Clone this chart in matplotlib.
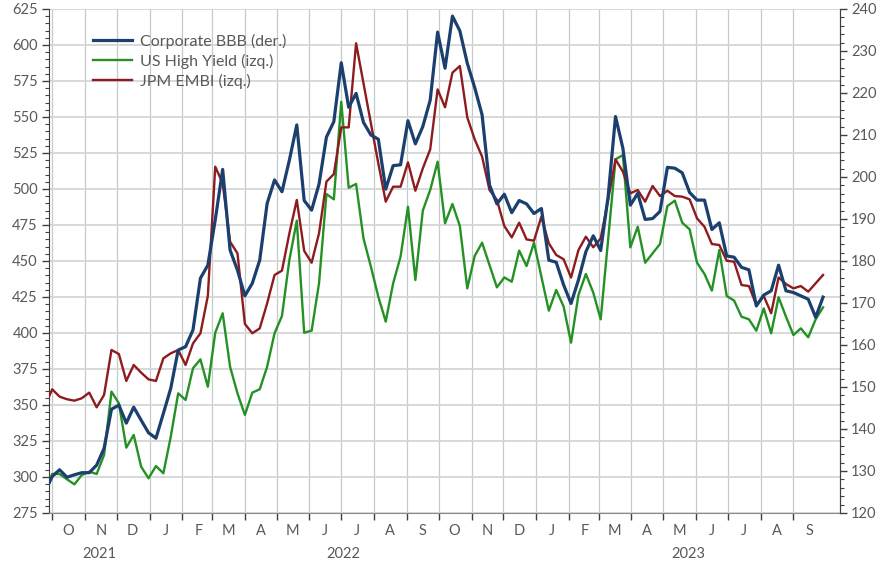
import matplotlib
matplotlib.use("Agg")
import matplotlib.pyplot as plt
import matplotlib.dates as mdates
from matplotlib.ticker import MultipleLocator, FixedLocator, NullFormatter
from matplotlib.transforms import blended_transform_factory
import pandas as pd

plt.rcParams['font.family'] = ['Lato', 'DejaVu Sans']

# ---------------- data ----------------
first_date = "2021-09-28"
weekly_start = "2021-10-01"

corporate_bbb = [  # right axis
    127.1, 128.7, 130.3, 128.5, 129.1, 129.6, 129.6, 131.4, 135.4, 144.7,
    145.7, 141.4, 145.2, 142.1, 139.1, 137.8, 143.7, 149.7, 158.8, 159.6,
    163.6, 175.9, 179.0, 189.8, 201.8, 182.6, 177.8, 171.7, 174.7, 180.2,
    193.7, 199.3, 196.5, 204.0, 212.4, 194.4, 192.1, 198.3, 209.5, 213.2,
    227.2, 216.6, 219.9, 213.0, 210.0, 209.0, 197.1, 202.7, 202.9, 213.4,
    207.9, 212.0, 218.3, 234.5, 225.9, 238.3, 234.8, 227.1, 221.3, 214.8,
    198.1, 193.6, 195.9, 191.5, 194.4, 193.6, 191.3, 192.5, 180.2, 179.7,
    174.3, 169.9, 175.5, 182.2, 186.0, 182.5, 195.3, 214.4, 206.8, 193.3,
    196.1, 189.9, 190.1, 191.8, 202.3, 202.1, 201.0, 196.3, 194.5, 194.5,
    187.5, 189.1, 181.2, 180.9, 178.5, 177.9, 169.3, 171.9, 172.9, 179.0,
    172.9, 172.5, 171.7, 170.9, 166.6, 171.4,
]

us_high_yield = [  # left axis
    295.6, 302.1, 302.1, 298.4, 294.9, 301.4, 303.7, 302.1, 315.3, 359.3,
    351.2, 320.4, 329.2, 307.2, 299.1, 307.6, 302.6, 328.0, 358.1, 353.5,
    375.5, 381.7, 362.7, 400.2, 413.7, 376.6, 358.1, 343.1, 358.6, 360.9,
    376.6, 399.8, 411.8, 450.7, 478.0, 400.2, 401.6, 434.5, 496.5, 492.8,
    560.6, 500.9, 503.5, 465.7, 446.0, 425.2, 407.9, 434.5, 453.0, 487.7,
    436.8, 485.0, 499.3, 519.0, 476.2, 489.6, 474.3, 431.0, 453.5, 462.7,
    447.2, 431.7, 438.6, 435.6, 457.2, 446.5, 462.7, 439.1, 415.5, 429.9,
    418.3, 393.3, 426.4, 441.0, 428.0, 409.5, 464.6, 520.6, 523.6, 459.5,
    473.8, 448.8, 455.3, 461.8, 488.2, 491.9, 476.6, 472.0, 448.8, 441.0,
    429.4, 457.6, 425.7, 422.5, 411.3, 409.5, 401.6, 417.1, 399.8, 424.8,
    411.3, 398.6, 403.2, 397.0, 409.5, 417.8,
]

jpm_embi = [  # left axis
    355.8, 360.9, 355.8, 354.0, 353.0, 354.7, 358.6, 348.4, 357.0, 388.2,
    385.4, 366.7, 377.8, 372.5, 367.8, 366.7, 382.4, 385.9, 388.2, 377.8,
    392.8, 399.8, 425.7, 515.5, 504.0, 463.4, 455.3, 406.3, 399.8, 403.2,
    420.6, 440.3, 443.3, 469.2, 492.4, 457.0, 448.8, 469.2, 505.1, 510.4,
    542.8, 542.8, 601.2, 573.4, 545.6, 517.8, 491.2, 501.6, 501.6, 518.5,
    498.8, 514.3, 527.5, 569.2, 556.7, 580.8, 585.4, 549.8, 534.5, 522.5,
    499.3, 492.4, 474.3, 466.4, 476.6, 465.0, 464.1, 480.8, 462.3, 454.2,
    451.2, 438.5, 457.6, 466.9, 459.5, 465.7, 492.4, 520.6, 512.0, 497.0,
    499.3, 491.2, 502.1, 495.1, 498.8, 495.1, 494.7, 492.8, 479.6, 473.8,
    461.8, 461.1, 450.2, 449.5, 433.3, 432.6, 419.4, 425.7, 413.7, 438.6,
    434.0, 431.0, 432.6, 428.7, 434.5, 440.3,
]

month_letters = ["O", "N", "D", "J", "F", "M", "A", "M", "J", "J", "A", "S",
                 "O", "N", "D", "J", "F", "M", "A", "M", "J", "J", "A", "S"]
year_labels = ["2021", "2022", "2023"]
legend_labels = ["Corporate BBB (der.)", "US High Yield (izq.)", "JPM EMBI (izq.)"]

# ---------------- layout ----------------
dates = pd.DatetimeIndex([pd.Timestamp(first_date)]).append(
    pd.date_range(weekly_start, periods=len(us_high_yield) - 1, freq="7D"))

W, H = 877, 563
fig = plt.figure(figsize=(W / 100, H / 100), dpi=100)
left, right, top, bottom = 49, 840, 9, 513
ax = fig.add_axes([left / W, (H - bottom) / H, (right - left) / W, (bottom - top) / H])
ax2 = ax.twinx()

c_bbb = "#1B3F6E"
c_hy = "#249124"
c_embi = "#8E1B1E"
txt = "#595959"
spine_c = "#404040"

l_hy, = ax.plot(dates, us_high_yield, color=c_hy, lw=1.7, zorder=3)
l_embi, = ax.plot(dates, jpm_embi, color=c_embi, lw=1.7, zorder=3)
l_bbb, = ax2.plot(dates, corporate_bbb, color=c_bbb, lw=2.3, zorder=4)

x0, x1 = pd.Timestamp("2021-09-28"), pd.Timestamp("2023-10-15")
ax.set_xlim(x0, x1)
ax.set_ylim(275, 625)
ax2.set_ylim(120, 240)

ax.yaxis.set_major_locator(MultipleLocator(25))
ax.yaxis.set_minor_locator(MultipleLocator(5))
ax2.yaxis.set_major_locator(MultipleLocator(10))
ax2.yaxis.set_minor_locator(MultipleLocator(2))

month_starts = pd.date_range("2021-10-01", "2023-09-01", freq="MS")
month_mids = month_starts + pd.Timedelta(days=15)
ax.xaxis.set_major_locator(FixedLocator(mdates.date2num(month_starts)))
ax.xaxis.set_major_formatter(NullFormatter())
ax.xaxis.set_minor_locator(FixedLocator(mdates.date2num(month_mids)))
ax.set_xticklabels(month_letters, minor=True)
ax.tick_params(axis="x", which="minor", length=0, pad=8, labelsize=10.5, labelcolor=txt)
ax.tick_params(axis="x", which="major", length=5, width=1, color=spine_c, direction="out")

ax.tick_params(axis="y", which="major", length=5, width=1, color=spine_c, labelsize=10.5,
               labelcolor=txt, pad=3)
ax.tick_params(axis="y", which="minor", length=3, width=0.8, color=spine_c)
ax2.tick_params(axis="y", which="major", length=5, width=1, color=spine_c, labelsize=10.5,
                labelcolor=txt, pad=3)
ax2.tick_params(axis="y", which="minor", length=3, width=0.8, color=spine_c)

ax.grid(True, axis="y", which="major", color="#D4D6D6", lw=1.3, zorder=0)
ax.grid(True, axis="x", which="major", color="#C4C9C9", lw=0.9, zorder=0)
ax.set_axisbelow(True)

for a in (ax, ax2):
    a.spines["top"].set_visible(False)
    a.spines["left"].set_color(spine_c)
    a.spines["right"].set_color(spine_c)
    a.spines["bottom"].set_color("#8C8C8C")
ax2.spines["left"].set_visible(False)
ax2.spines["bottom"].set_visible(False)

# year labels
year_starts = [x0, pd.Timestamp("2022-01-01"), pd.Timestamp("2023-01-01"), x1]
trans = blended_transform_factory(ax.transData, ax.transAxes)
for i, lab in enumerate(year_labels):
    mid = year_starts[i] + (year_starts[i + 1] - year_starts[i]) / 2
    ax.text(mdates.date2num(mid), -0.081, lab, transform=trans, ha="center", va="center",
            fontsize=10.5, color=txt)

leg = ax2.legend([l_bbb, l_hy, l_embi], legend_labels, loc="upper left",
                 bbox_to_anchor=(0.037, 0.979), frameon=False, fontsize=11.5,
                 handlelength=2.45, handletextpad=0.5, labelspacing=0.3)
for t in leg.get_texts():
    t.set_color(txt)

fig.savefig("out.png", dpi=100)
